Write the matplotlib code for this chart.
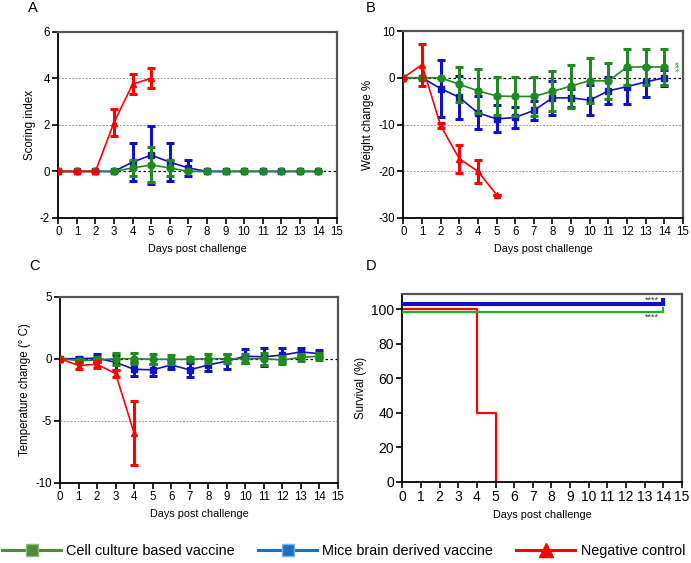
import matplotlib
matplotlib.use("Agg")
import matplotlib.pyplot as plt
from matplotlib.lines import Line2D
import numpy as np

plt.rcParams['font.family'] = ['Liberation Sans', 'DejaVu Sans']
plt.rcParams['axes.unicode_minus'] = False

# ---------------- data ----------------
days_all = list(range(0, 15))
days_neg = [0, 1, 2, 3, 4, 5]

# A: scoring index
score_neg = [0, 0, 0, 2.1, 3.75, 4.0]
score_neg_err = [0, 0, 0, 0.6, 0.42, 0.42]
score_mice = [0, 0, 0, 0, 0.4, 0.7, 0.4, 0.15, 0, 0, 0, 0, 0, 0, 0]
score_mice_err = [0, 0, 0, 0, 0.8, 1.25, 0.8, 0.35, 0, 0, 0, 0, 0, 0, 0]
score_cell = [0, 0, 0, 0, 0.15, 0.28, 0.15, 0, 0, 0, 0, 0, 0, 0, 0]
score_cell_err = [0, 0, 0, 0, 0.35, 0.75, 0.35, 0, 0, 0, 0, 0, 0, 0, 0]

# B: weight change %
weight_neg = [0, 2.8, -10.2, -17.3, -20.0, -25.0]
weight_neg_err = [0, 4.5, 0.6, 3.0, 2.5, 0]
weight_mice = [0, 0, -2.3, -4.2, -7.5, -8.8, -8.5, -7.0, -4.3, -4.3, -4.8, -2.8, -1.9, -0.9, 0]
weight_mice_err = [0, 0, 6.0, 4.6, 3.5, 2.9, 2.3, 2.0, 3.6, 2.0, 3.2, 2.9, 3.8, 3.2, 1.7]
weight_cell = [0, 0, 0, -1.4, -2.8, -3.9, -4.0, -4.0, -2.9, -1.8, -0.6, -0.7, 2.3, 2.3, 2.3]
weight_cell_err = [0, 0, 0, 3.7, 4.7, 4.0, 4.2, 4.2, 4.3, 4.6, 4.9, 3.9, 3.8, 3.8, 3.8]

# C: temperature change (°C)
days_temp_neg = [0, 1, 2, 3, 4]
temp_neg = [0, -0.55, -0.45, -1.2, -6.0]
temp_neg_err = [0, 0.3, 0.3, 0.25, 2.6]
temp_mice = [0, 0, 0.05, -0.3, -0.85, -0.9, -0.5, -0.9, -0.5, -0.2, 0.2, 0.15, 0.3, 0.55, 0.4]
temp_mice_err = [0, 0.1, 0.3, 0.6, 0.55, 0.5, 0.3, 0.55, 0.5, 0.6, 0.55, 0.7, 0.55, 0.3, 0.3]
temp_cell = [0, -0.15, -0.1, 0, 0, -0.05, -0.05, -0.05, 0, 0, 0, 0, -0.1, 0.1, 0.2]
temp_cell_err = [0, 0.15, 0.2, 0.5, 0.45, 0.4, 0.35, 0.15, 0.35, 0.35, 0.35, 0.5, 0.35, 0.3, 0.3]

# D: survival (%)
surv_days_neg = [0, 4, 5, 5]
surv_neg = [100, 40, 0, 0]
surv_days_vacc = [0, 14]
surv_mice = [100, 100]
surv_cell = [100, 100]

legend_labels = ["Cell culture based vaccine", "Mice brain derived vaccine", "Negative control"]
panel_letters = ["A", "B", "C", "D"]
xlabel = "Days post challenge"
ylabels = ["Scoring index", "Weight change %", "Temperature change (\u00b0 C)", "Survival (%)"]

# ---------------- style ----------------
RED = "#ff0000"
BLUE = "#1010c8"
GREEN = "#1f8a1f"
GREEN_D = "#19b419"
LEG_GREEN = "#4f8a34"
LEG_BLUE = "#1a6fc4"

W, H = 691, 563
fig = plt.figure(figsize=(W / 100, H / 100), dpi=100)


def px_axes(l, t, r, b):
    return fig.add_axes([l / W, 1 - b / H, (r - l) / W, (b - t) / H])


axA = px_axes(58.3, 31.7, 337, 218)
axB = px_axes(403.3, 31, 683, 218)
axC = px_axes(60, 296.7, 338, 482.7)
axD = px_axes(402.3, 294.3, 682, 481.7)


def style_axes(ax, xfs=8.3, yfs=8.3):
    for s in ["left", "bottom"]:
        ax.spines[s].set_color("black")
        ax.spines[s].set_linewidth(1.3)
    for s in ["top", "right"]:
        ax.spines[s].set_color("#555555")
        ax.spines[s].set_linewidth(1.6)
    ax.tick_params(direction="out", length=4, width=1.2, pad=2)
    ax.tick_params(axis="x", labelsize=xfs)
    ax.tick_params(axis="y", labelsize=yfs)
    ax.set_xlim(0, 15)
    ax.set_xticks(range(0, 16))


def series(ax, x, y, e, color, marker, ms, z):
    ax.errorbar(x, y, yerr=e, color=color, marker=marker, markersize=ms,
                lw=1.2, elinewidth=2.2, capsize=3.2, capthick=2.2, zorder=z,
                markeredgecolor=color)


def ref_lines(ax, grid_vals):
    ax.axhline(0, color="black", ls=(0, (2, 2)), lw=0.9, zorder=1)
    for g in grid_vals:
        ax.axhline(g, color="#999999", ls=(0, (2, 1.5)), lw=0.7, zorder=1)


# Panel A
style_axes(axA)
axA.set_ylim(-2, 6)
axA.set_yticks([-2, 0, 2, 4, 6])
ref_lines(axA, [2, 4])
series(axA, days_all, score_mice, score_mice_err, BLUE, "s", 5, 3)
series(axA, days_all, score_cell, score_cell_err, GREEN, "o", 5, 4)
series(axA, days_neg, score_neg, score_neg_err, RED, "^", 4.5, 5)

# Panel B
style_axes(axB)
axB.set_ylim(-30, 10)
axB.set_yticks([-30, -20, -10, 0, 10])
ref_lines(axB, [-10, -20])
series(axB, days_all, weight_mice, weight_mice_err, BLUE, "s", 5, 3)
series(axB, days_all, weight_cell, weight_cell_err, GREEN, "o", 5, 4)
series(axB, days_neg, weight_neg, weight_neg_err, RED, "^", 4.5, 5)
axB.text(14.5, 2.4, "***", color="#22bb22", fontsize=7, rotation=-90,
         ha="center", va="center", clip_on=False)

# Panel C
style_axes(axC)
axC.set_ylim(-10, 5)
axC.set_yticks([-10, -5, 0, 5])
ref_lines(axC, [-5])
series(axC, days_all, temp_mice, temp_mice_err, BLUE, "s", 5, 3)
series(axC, days_all, temp_cell, temp_cell_err, GREEN, "o", 5, 4)
series(axC, days_temp_neg, temp_neg, temp_neg_err, RED, "^", 4.5, 5)

# Panel D
style_axes(axD, xfs=10, yfs=10)
axD.set_ylim(0, 108.7)
axD.set_yticks([0, 20, 40, 60, 80, 100])
blue_off, green_off = 2.9, -1.4
censor = [(0, 0), (0, 1)]
axD.plot(surv_days_vacc, np.array(surv_mice) + blue_off, color=BLUE, lw=3,
         marker=censor, markevery=[1], markersize=8, markeredgewidth=3, zorder=4)
axD.plot(surv_days_vacc, np.array(surv_cell) + green_off, color=GREEN_D, lw=1.6,
         marker=censor, markevery=[1], markersize=7, markeredgewidth=1.6, zorder=3)
axD.plot(surv_days_neg, surv_neg, color=RED, lw=1.6, drawstyle="steps-post", zorder=2)
axD.text(13.4, 105.4, "****", fontsize=6.5, ha="center", va="center", color="#333333")
axD.text(13.4, 95.2, "****", fontsize=6.5, ha="center", va="center", color="#333333")

for ax, yl in zip([axA, axB, axC, axD], ylabels):
    ax.set_xlabel(xlabel, fontsize=7.8, labelpad=4)
    ax.set_ylabel(yl, fontsize=8.3, labelpad=3)

for letter, (x, y) in zip(panel_letters, [(33, 8), (371, 8), (34, 266), (371, 266)]):
    fig.text(x / W, 1 - y / H, letter, fontsize=10.5, ha="center", va="center")

handles = [
    Line2D([0], [0], color=LEG_GREEN, lw=2.2, marker="s", markersize=9,
           markerfacecolor=LEG_GREEN, markeredgecolor="#8fb87a"),
    Line2D([0], [0], color=LEG_BLUE, lw=2.2, marker="s", markersize=9,
           markerfacecolor=LEG_BLUE, markeredgecolor="#7fb0e0"),
    Line2D([0], [0], color=RED, lw=2.2, marker="^", markersize=10,
           markerfacecolor=RED, markeredgecolor=RED),
]
fig.legend(handles, legend_labels, loc="center", bbox_to_anchor=(0.497, 1 - 551 / H),
           ncol=3, frameon=False, fontsize=10.4, handlelength=4.1, handletextpad=0.35,
           columnspacing=1.6, borderaxespad=0, borderpad=0)

fig.savefig("out.png", dpi=100)
